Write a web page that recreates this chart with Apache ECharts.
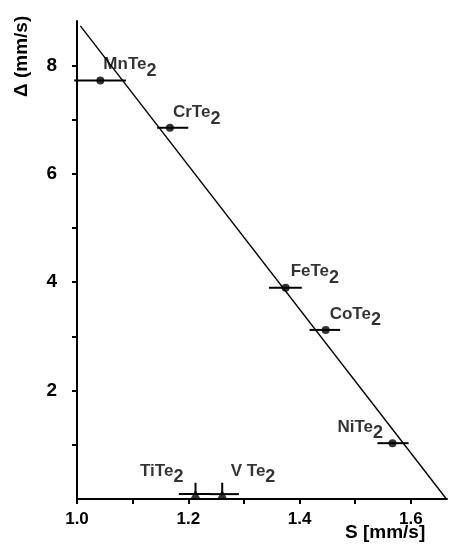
<!DOCTYPE html>
<html><head><meta charset="utf-8">
<script src="https://cdn.jsdelivr.net/npm/echarts@6/dist/echarts.min.js"></script>
<style>html,body{margin:0;padding:0;background:#fff}#c{width:453px;height:544px}</style>
</head><body><div id="c"></div>
<script>
// Data
const compounds = ['MnTe', 'CrTe', 'FeTe', 'CoTe', 'NiTe'];
const sValues   = [1.042, 1.167, 1.375, 1.447, 1.567];
const deltaValues = [7.72, 6.85, 3.90, 3.12, 1.03];
const sErrLow   = [0.995, 1.144, 1.345, 1.418, 1.540];
const sErrHigh  = [1.088, 1.200, 1.404, 1.473, 1.596];
const zeroCompounds = ['TiTe', 'V Te'];
const zeroS = [1.213, 1.261];
const zeroDelta = [0.09, 0.09];
const zeroErrLow = [1.183, 1.238];
const zeroErrHigh = [1.240, 1.291];
const fitLine = [[1.006, 8.73], [1.664, 0]];
const xTicks = [1.0, 1.1, 1.2, 1.3, 1.4, 1.5, 1.6];
const xLabels = [1.0, 1.2, 1.4, 1.6];
const yTicks = [1, 2, 3, 4, 5, 6, 7, 8];
const yLabels = [2, 4, 6, 8];

const labelOffsets = {
  'MnTe': [-6, -16], 'CrTe': [-6, -15], 'FeTe': [-4, -16], 'CoTe': [-5, -16], 'NiTe': [-64, -16],
  'TiTe': [-65, -23], 'V Te': [-1, -23]
};

const FONT = 'Liberation Sans';
const rich = {
  b: {fontFamily: FONT, fontSize: 17, color: '#000', fontWeight: 'bold'},
  s: {fontFamily: FONT, fontSize: 18, color: '#000', fontWeight: 'bold', padding: [12, 0, 0, 0]}
};

function errItems(lo, hi, y) { return lo.map((l, i) => [l, hi[i], y[i]]); }

const chart = echarts.init(document.getElementById('c'));
const pointData = compounds.map((n, i) => ({
  value: [sValues[i], deltaValues[i]], name: n,
  label: {show: true, position: 'right', offset: labelOffsets[n],
    formatter: '{b|' + n + '}{s|2}', rich: rich}
}));
const zeroData = zeroCompounds.map((n, i) => ({
  value: [zeroS[i], zeroDelta[i]], name: n,
  label: {show: true, position: 'right', offset: labelOffsets[n],
    formatter: '{b|' + n + '}{s|2}', rich: rich}
}));

const errRender = function (params, api) {
  const p1 = api.coord([api.value(0), api.value(2)]);
  const p2 = api.coord([api.value(1), api.value(2)]);
  return {type: 'line', shape: {x1: p1[0], y1: p1[1], x2: p2[0], y2: p2[1]},
    style: {stroke: '#000', lineWidth: 2}};
};
const spikeRender = function (params, api) {
  const p1 = api.coord([api.value(0), api.value(1)]);
  const p2 = api.coord([api.value(0), 0.3]);
  return {type: 'line', shape: {x1: p1[0], y1: p1[1], x2: p2[0], y2: p2[1]},
    style: {stroke: '#000', lineWidth: 2}};
};

chart.setOption({
  animation: false,
  grid: {left: 77, right: 6, top: 21, bottom: 45},
  xAxis: {
    type: 'value', min: 1.0, max: 1.665, interval: 0.1,
    axisLine: {lineStyle: {color: '#000', width: 2}},
    axisTick: {show: true, inside: false, length: 5, lineStyle: {color: '#000', width: 2}, customValues: xTicks},
    axisLabel: {customValues: xLabels, formatter: v => v.toFixed(1), color: '#000',
      fontFamily: FONT, fontSize: 17, fontWeight: 'bold', margin: 12},
    splitLine: {show: false}
  },
  yAxis: {
    type: 'value', min: 0, max: 8.82, interval: 1,
    axisLine: {show: true, lineStyle: {color: '#000', width: 2}},
    axisTick: {show: true, length: 5, lineStyle: {color: '#000', width: 2}, customValues: yTicks},
    axisLabel: {customValues: yLabels, color: '#000', fontFamily: FONT, fontSize: 19, fontWeight: 'bold', margin: 20},
    splitLine: {show: false}
  },
  graphic: [
    {type: 'text', left: 345, top: 523, style: {text: 'S [mm/s]', fontFamily: FONT, fontSize: 19, fontWeight: 'bold', fill: '#000'}},
    {type: 'text', x: 12, y: 97, rotation: Math.PI / 2, style: {text: 'Δ (mm/s)', fontFamily: FONT, fontSize: 19, fontWeight: 'bold', fill: '#000'}}
  ],
  series: [
    {type: 'line', data: fitLine, symbol: 'none', lineStyle: {color: '#000', width: 1.4}, silent: true},
    {type: 'custom', renderItem: errRender, data: errItems(sErrLow, sErrHigh, deltaValues), silent: true},
    {type: 'custom', renderItem: errRender, data: errItems(zeroErrLow, zeroErrHigh, zeroDelta), silent: true},
    {type: 'custom', renderItem: spikeRender, data: zeroS.map((s, i) => [s, zeroDelta[i]]), silent: true},
    {type: 'scatter', data: pointData, symbol: 'circle', symbolSize: 8, itemStyle: {color: '#000'}},
    {type: 'scatter', data: zeroData, symbol: 'triangle', symbolSize: [9, 8], itemStyle: {color: '#000'}}
  ]
});
</script></body></html>
